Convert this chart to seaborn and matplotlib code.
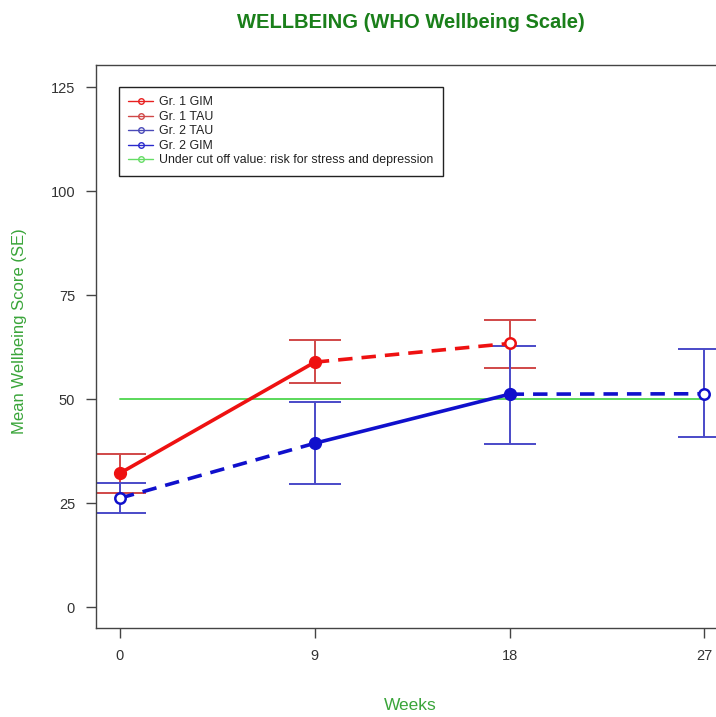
import matplotlib
matplotlib.use("Agg")
import matplotlib.pyplot as plt
import seaborn as sns
import pandas as pd
from matplotlib.lines import Line2D

# --- data (weeks, mean score, SE bounds) ---
weeks = [0, 9, 18, 27]

g1_gim_weeks = [0, 9]
g1_gim_mean = [32.2, 58.9]
g1_gim_lo = [27.4, 53.8]
g1_gim_hi = [36.8, 64.2]

g1_tau_weeks = [9, 18]
g1_tau_mean = [58.9, 63.4]
g1_tau_err_week = [18]
g1_tau_err_mean = [63.4]
g1_tau_lo = [57.4]
g1_tau_hi = [69.0]

g2_tau_weeks = [0, 9]
g2_tau_mean = [26.2, 39.4]
g2_tau_err_week = [0]
g2_tau_err_mean = [26.2]
g2_tau_lo = [22.6]
g2_tau_hi = [29.8]

g2_gim_weeks = [9, 18]
g2_gim_mean = [39.4, 51.2]
g2_gim_lo = [29.6, 39.2]
g2_gim_hi = [49.3, 62.7]

g2_fu_weeks = [18, 27]
g2_fu_mean = [51.2, 51.3]
g2_fu_err_week = [27]
g2_fu_err_mean = [51.3]
g2_fu_lo = [40.9]
g2_fu_hi = [62.0]

cutoff_weeks = [0, 27]
cutoff_value = [50, 50]

legend_labels = ["Gr. 1 GIM", "Gr. 1 TAU", "Gr. 2 TAU", "Gr. 2 GIM",
                 "Under cut off value: risk for stress and depression"]

RED = "#ee1111"
RED_ERR = "#d04848"
BLUE = "#1010cc"
BLUE_ERR = "#4a4ac8"
GREEN = "#5ad85a"
TITLE_GREEN = "#1a7f1a"
LABEL_GREEN = "#3aa53a"

sns.set_style("ticks")
plt.rcParams["font.family"] = ["Liberation Sans", "DejaVu Sans"]

fig = plt.figure(figsize=(7.16, 7.17), dpi=100)
ax = fig.add_axes([0.134, 0.124, 0.877, 0.785])

# cut-off line
sns.lineplot(x=cutoff_weeks, y=cutoff_value, ax=ax, color=GREEN, lw=1.4)


def seg(x, y, color, ls):
    df = pd.DataFrame({"week": x, "score": y})
    sns.lineplot(data=df, x="week", y="score", ax=ax, color=color,
                 linestyle=ls, lw=2.6, zorder=3)


def err(x, y, lo, hi, color):
    yerr = [[m - l for m, l in zip(y, lo)], [h - m for m, h in zip(y, hi)]]
    ax.errorbar(x, y, yerr=yerr, fmt="none", ecolor=color, elinewidth=1.4,
                capsize=19, capthick=1.4, zorder=2)


# error bars
err(g1_gim_weeks, g1_gim_mean, g1_gim_lo, g1_gim_hi, RED_ERR)
err(g1_tau_err_week, g1_tau_err_mean, g1_tau_lo, g1_tau_hi, RED_ERR)
err(g2_tau_err_week, g2_tau_err_mean, g2_tau_lo, g2_tau_hi, BLUE_ERR)
err(g2_gim_weeks, g2_gim_mean, g2_gim_lo, g2_gim_hi, BLUE_ERR)
err(g2_fu_err_week, g2_fu_err_mean, g2_fu_lo, g2_fu_hi, BLUE_ERR)

# line segments
seg(g1_gim_weeks, g1_gim_mean, RED, "-")
seg(g1_tau_weeks, g1_tau_mean, RED, (0, (4, 2.5)))
seg(g2_tau_weeks, g2_tau_mean, BLUE, (0, (4, 2.5)))
seg(g2_gim_weeks, g2_gim_mean, BLUE, "-")
seg(g2_fu_weeks, g2_fu_mean, BLUE, (0, (4, 2.5)))

# markers: filled for GIM, open for TAU / follow-up
ax.plot(g1_gim_weeks, g1_gim_mean, "o", color=RED, ms=8.5, zorder=4)
ax.plot(g2_gim_weeks, g2_gim_mean, "o", color=BLUE, ms=8.5, zorder=4)
ax.plot(g1_tau_err_week, g1_tau_err_mean, "o", mfc="white", mec=RED, mew=1.8, ms=7.5, zorder=4)
ax.plot(g2_tau_err_week, g2_tau_err_mean, "o", mfc="white", mec=BLUE, mew=1.8, ms=7.5, zorder=4)
ax.plot(g2_fu_err_week, g2_fu_err_mean, "o", mfc="white", mec=BLUE, mew=1.8, ms=7.5, zorder=4)

ax.set_xlim(-1.11, 27.9)
ax.set_ylim(-5.05, 130.3)
ax.set_xticks(weeks)
ax.set_yticks([0, 25, 50, 75, 100, 125])
ax.tick_params(axis="both", length=7, width=1, color="#444444",
               labelsize=10.5, labelcolor="#333333", pad=8)
for s in ax.spines.values():
    s.set_color("#444444")
    s.set_linewidth(1)
    s.set_visible(True)

fig.text(0.574, 0.968, "WELLBEING (WHO Wellbeing Scale)", color=TITLE_GREEN,
         fontsize=14.5, fontweight="bold", ha="center", va="center")
ax.set_xlabel("Weeks", color=LABEL_GREEN, fontsize=12.5, labelpad=25)
ax.set_ylabel("Mean Wellbeing Score (SE)", color=LABEL_GREEN, fontsize=12)
ax.yaxis.set_label_coords(-0.11, 0.528)

legend_colors = ["#e82020", "#d04848", "#4a4ab8", "#2a2acc", "#66dd66"]
handles = [Line2D([0], [0], color=c, lw=1, marker="o", mfc="none", mec=c,
                  ms=4, mew=1) for c in legend_colors]
leg = ax.legend(handles, legend_labels, loc="upper left",
                bbox_to_anchor=(0.037, 0.961), borderaxespad=0,
                fontsize=8.9, frameon=True, fancybox=False, framealpha=1,
                edgecolor="#222222", handlelength=2.0, labelspacing=0.2,
                borderpad=0.75, handletextpad=0.5)
leg.get_frame().set_linewidth(1)
for t in leg.get_texts():
    t.set_color("#222222")

fig.savefig("out.png", dpi=100)
